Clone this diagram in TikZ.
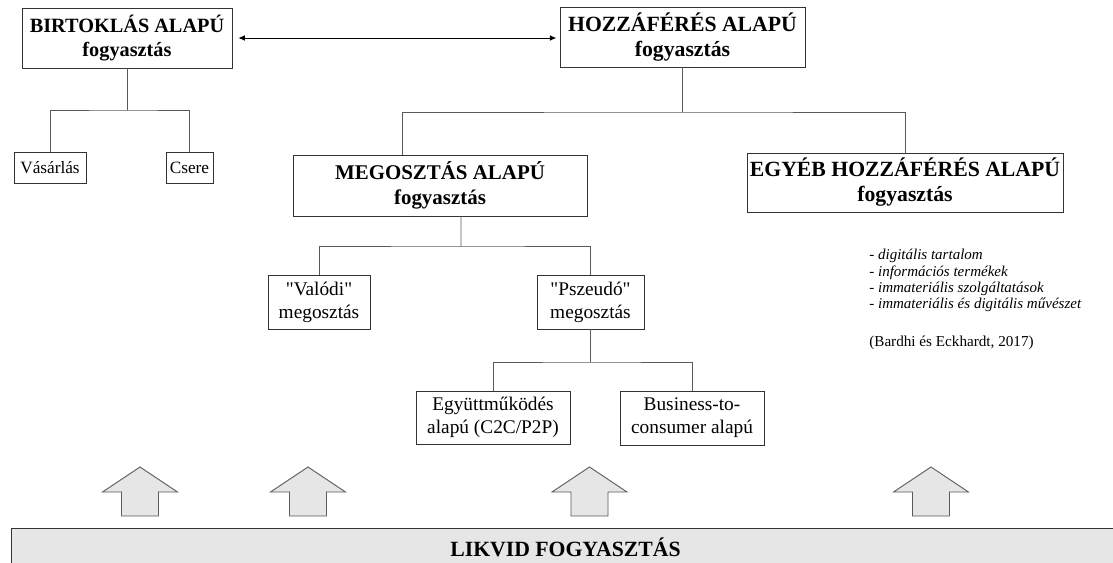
\documentclass[tikz,border=0pt]{standalone}
\usepackage{fontspec}
\setmainfont{Liberation Serif}
\usepackage{tikz}
\usetikzlibrary{arrows.meta}

\definecolor{boxline}{HTML}{333333}
\definecolor{connline}{HTML}{5A5A5A}
\definecolor{arrowfill}{HTML}{E6E6E6}

\begin{document}
\begin{tikzpicture}[x=0.022cm, y=-0.022cm,
		main node/.style={draw=boxline,line width=0.6pt,align=center,inner sep=1pt,
			font=\fontsize{13.6}{15.6}\selectfont\bfseries},
		sub node/.style={draw=boxline,line width=0.6pt,align=center,inner sep=1pt,
			font=\fontsize{12.1}{14.4}\selectfont},
		small node/.style={sub node,font=\fontsize{10.8}{12.8}\selectfont},
		link/.style={draw=connline,line width=0.6pt},
		block arrow/.style={draw=connline,fill=arrowfill,line width=0.6pt,line join=miter}]

		\useasboundingbox (0,0) rectangle (1113,563);
		\clip (0,0) rectangle (1113,563);

		% top level
		\node[main node,font=\fontsize{12.7}{15.6}\selectfont\bfseries,minimum width=4.62cm,minimum height=1.32cm] (B) at (127,38) {BIRTOKLÁS ALAPÚ\\fogyasztás};
		\node[main node,minimum width=5.39cm,minimum height=1.32cm] (H) at (682.5,37) {HOZZÁFÉRÉS ALAPÚ\\fogyasztás};
		\node[small node,minimum width=1.584cm,minimum height=0.682cm] (V) at (50,167.5) {Vásárlás};
		\node[small node,minimum width=1.034cm,minimum height=0.682cm] (C) at (189.5,167.5) {Csere};
		\node[main node,font=\fontsize{13.1}{15.6}\selectfont\bfseries,minimum width=6.468cm,minimum height=1.342cm] (M) at (440,185.5) {MEGOSZTÁS ALAPÚ\\fogyasztás};
		\node[main node,minimum width=6.952cm,minimum height=1.298cm] (E) at (905,182.5) {EGYÉB HOZZÁFÉRÉS ALAPÚ\\fogyasztás};

		% sharing
		\node[sub node,minimum width=2.244cm,minimum height=1.188cm] (VM) at (319,302) {\textquotedbl Valódi\textquotedbl\\megosztás};
		\node[sub node,minimum width=2.354cm,minimum height=1.188cm] (PM) at (590.5,302) {\textquotedbl Pszeudó\textquotedbl\\megosztás};
		\node[sub node,minimum width=3.388cm,minimum height=1.166cm] (EA) at (493,417.5) {Együttműködés\\alapú (C2C/P2P)};
		\node[sub node,minimum width=3.168cm,minimum height=1.188cm] (BC) at (692,418) {Business-to-\\consumer alapú};

		\node[anchor=north west,align=left,inner sep=0pt,font=\fontsize{9.4}{10.2}\selectfont\itshape] (list) at (869,249)
		{- digitális tartalom\\- információs termékek\\- immateriális szolgáltatások\\- immateriális és digitális művészet};
		\node[anchor=west,inner sep=0pt,font=\fontsize{9.5}{10}\selectfont] (src) at (869,343) {(Bardhi és Eckhardt, 2017)};

		\node[draw=boxline,line width=0.6pt,fill=arrowfill,minimum width=24.398cm,minimum height=0.836cm,
			font=\fontsize{13.6}{15.6}\selectfont\bfseries] (L) at (565.5,547) {LIKVID FOGYASZTÁS};

		% connectors
		\draw[draw=black,line width=0.6pt,{Latex[length=4pt,width=3.5pt]}-{Latex[length=4pt,width=3.5pt]},
			shorten <=0.13cm,shorten >=0.07cm] (B.east) -- (B.east -| H.west);

		\coordinate (bj) at (127,110);
		\draw[link] (B.south) -- (bj);
		\draw[link] (V.north) |- (bj) -| (C.north);

		\coordinate (hj) at (682.5,112);
		\draw[link] (H.south) -- (hj);
		\draw[link] ([xshift=-0.836cm]M.north) |- (hj) -| (E.north);

		\coordinate (mj) at (461,246);
		\draw[link] ([xshift=0.462cm]M.south) -- (mj);
		\draw[link] (VM.north) |- (mj) -| (PM.north);

		\coordinate (pj) at (590.5,362);
		\draw[link] (PM.south) -- (pj);
		\draw[link] (EA.north) |- (pj) -| (BC.north);

		% up arrows
		\foreach \c in {140,308,589.5,931}
		\draw[block arrow] (\c-18.5,516) -- (\c-18.5,492) -- (\c-37.5,492) -- (\c,467)
		-- (\c+37.5,492) -- (\c+18.5,492) -- (\c+18.5,516) -- cycle;
\end{tikzpicture}
\end{document}
